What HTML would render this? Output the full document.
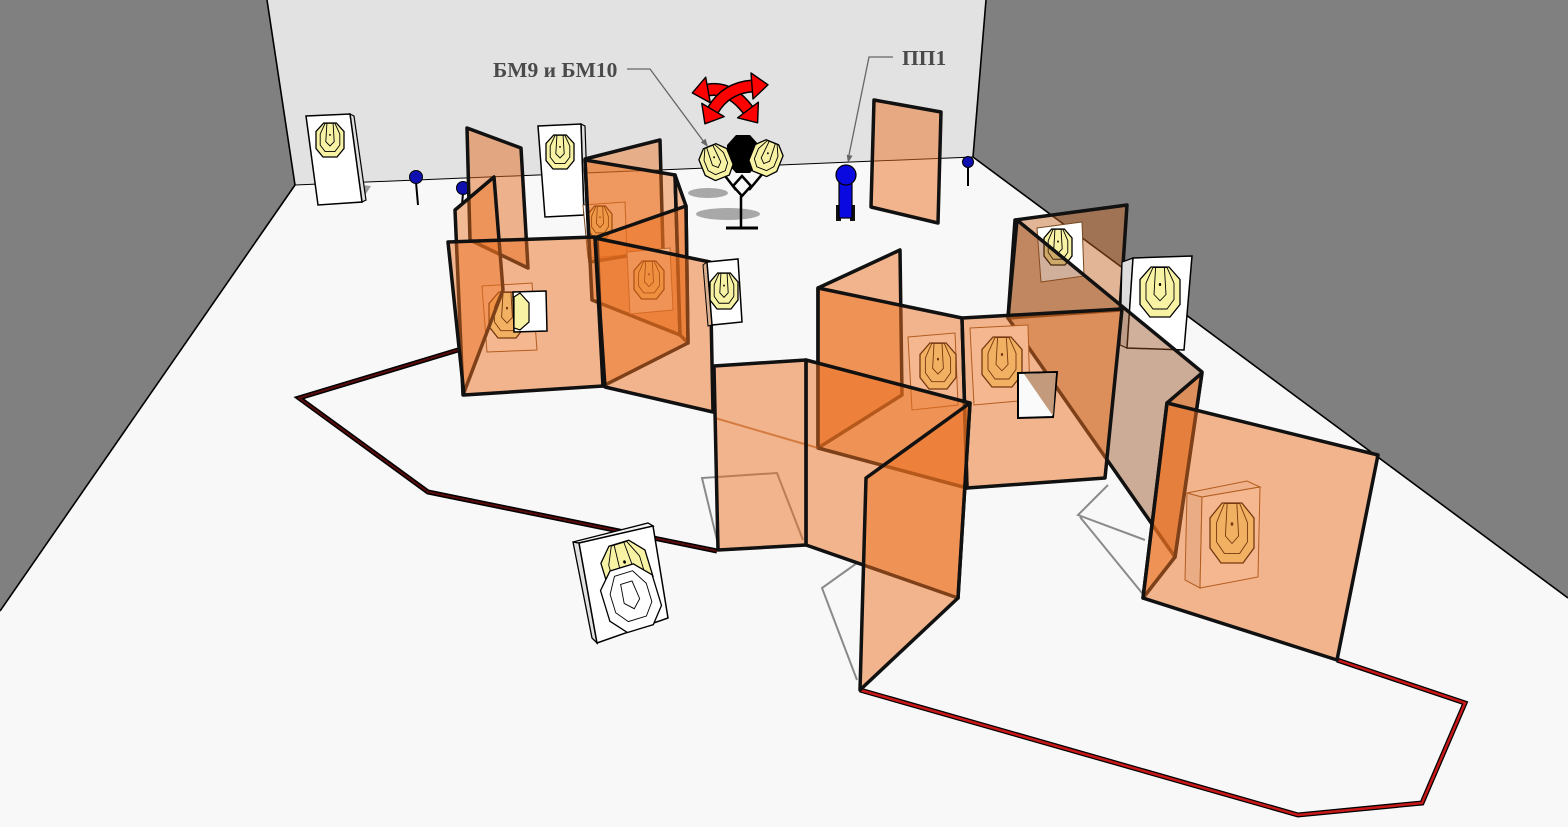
<!DOCTYPE html>
<html><head><meta charset="utf-8">
<style>html,body{margin:0;padding:0;background:#f8f8f8;overflow:hidden}svg{display:block}</style>
</head><body>
<svg width="1568" height="827" viewBox="0 0 1568 827" xmlns="http://www.w3.org/2000/svg">
<defs>
<g id="tg">
 <polygon points="-0.45,-1 0.45,-1 1,-0.5 1,0.5 0.5,1 -0.5,1 -1,0.5 -1,-0.5" fill="#f8f3a4" stroke="#000" stroke-width="1.3" vector-effect="non-scaling-stroke"/>
 <polygon points="-0.35,-0.98 0.35,-0.98 0.7,-0.35 0.7,0.3 0.35,0.68 -0.35,0.68 -0.7,0.3 -0.7,-0.35" fill="none" stroke="#000" stroke-width="0.9" vector-effect="non-scaling-stroke"/>
 <path d="M-0.22,-0.98 L-0.3,0.1 L0,0.35 L0.3,0.1 L0.22,-0.98" fill="none" stroke="#000" stroke-width="0.9" vector-effect="non-scaling-stroke"/>
 <circle cx="0" cy="-0.3" r="0.06" fill="#000"/>
</g>
<g id="tw">
 <polygon points="-0.45,-1 0.45,-1 1,-0.5 1,0.5 0.5,1 -0.5,1 -1,0.5 -1,-0.5" fill="#fff" stroke="#000" stroke-width="1.3" vector-effect="non-scaling-stroke"/>
 <polygon points="-0.35,-0.8 0.35,-0.8 0.7,-0.3 0.7,0.3 0.35,0.68 -0.35,0.68 -0.7,0.3 -0.7,-0.3" fill="none" stroke="#000" stroke-width="0.9" vector-effect="non-scaling-stroke"/>
 <path d="M-0.22,-0.5 L-0.3,0.1 L0,0.35 L0.3,0.1 L0.22,-0.5 Z" fill="none" stroke="#000" stroke-width="0.9" vector-effect="non-scaling-stroke"/>
</g>
</defs>

<!-- room -->
<rect width="1568" height="827" fill="#f8f8f8"/>
<polygon points="267,0 986,0 973,157 295,185" fill="#e2e2e2"/>
<polygon points="0,0 267,0 295,185 0,611" fill="#808080"/>
<polygon points="986,0 1568,0 1568,598 973,157" fill="#808080"/>
<g stroke="#000" stroke-width="1.6" fill="none">
<line x1="267" y1="0" x2="295" y2="185"/>
<line x1="295" y1="185" x2="0" y2="611"/>
<line x1="986" y1="0" x2="973" y2="157"/>
<line x1="973" y1="157" x2="1568" y2="598"/>
<line x1="295" y1="185" x2="973" y2="157" stroke-width="1"/>
</g>

<!-- fault line -->
<polyline points="458,350 299,398 428,492 717,551" fill="none" stroke="#000" stroke-width="5"/>
<polyline points="458,350 299,398 428,492 717,551" fill="none" stroke="#5a0c0c" stroke-width="2"/>
<polyline points="860,690 1298,815 1422,803 1465,703 1337,660" fill="none" stroke="#000" stroke-width="5"/>
<polyline points="860,690 1298,815 1422,803 1465,703 1337,660" fill="none" stroke="#c81818" stroke-width="2.5"/>

<!-- floor shadow outlines -->
<g stroke="#8a8a8a" stroke-width="2" fill="none">
<polyline points="717,540 702,478 777,473 803,540"/>
<polyline points="857,563 822,588 857,680"/>
<polyline points="1108,485 1078,515 1145,540"/>
<line x1="1080" y1="517" x2="1142" y2="593"/>
</g>

<!-- back left card -->
<polygon points="362,185 371,186 362,200" fill="#999"/>
<polygon points="350,114 354,116 366,200 362,202" fill="#ddd" stroke="#000" stroke-width="1.2"/>
<polygon points="306,116 350,114 362,202 318,205" fill="#fff" stroke="#000" stroke-width="1.5"/>
<use href="#tg" transform="translate(330,140) scale(14,17)"/>

<!-- pins -->
<g stroke="#000">
<line x1="416" y1="182" x2="418" y2="205" stroke-width="2"/>
<circle cx="416" cy="177" r="6.5" fill="#1010b0" stroke-width="1"/>
<line x1="463" y1="193" x2="462" y2="205" stroke-width="2"/>
<circle cx="463" cy="188" r="6.5" fill="#1010b0" stroke-width="1"/>
<line x1="968" y1="166" x2="968" y2="186" stroke-width="2"/>
<circle cx="968" cy="162" r="5.5" fill="#1010b0" stroke-width="1"/>
</g>

<!-- center back card -->
<polygon points="581,124 585,126 588,214 584,215" fill="#ddd" stroke="#000" stroke-width="1.2"/>
<polygon points="538,126 581,124 584,215 545,217" fill="#fff" stroke="#000" stroke-width="1.5"/>
<use href="#tg" transform="translate(560,152) scale(14,17)"/>

<!-- swinger -->
<ellipse cx="708" cy="193" rx="20" ry="5" fill="#a8a8a8"/>
<ellipse cx="728" cy="214" rx="32" ry="6" fill="#a8a8a8"/>
<g stroke="#000" stroke-width="2.5" fill="none">
<line x1="722" y1="172" x2="736" y2="190"/>
<line x1="764" y1="172" x2="749" y2="190"/>
<polygon points="742,176 751,186 742,196 733,186"/>
<line x1="741" y1="196" x2="741" y2="228"/>
<line x1="726" y1="228" x2="758" y2="228" stroke-width="3"/>
</g>
<polygon points="736,135 750,135 759,145 759,163 750,173 736,173 727,163 727,145" fill="#000"/>
<use href="#tg" transform="translate(716,162) rotate(-22) scale(15,17)"/>
<use href="#tg" transform="translate(766,158) rotate(22) scale(15,17)"/>

<!-- red arrows -->
<path d="M708,90 Q730,86 748,110" stroke="#000" stroke-width="13" fill="none"/>
<path d="M708,90 Q730,86 748,110" stroke="#f00" stroke-width="10" fill="none"/>
<polygon points="692.3,92.9 705.7,77.2 710.3,102.8" fill="#f00" stroke="#000" stroke-width="1.4" stroke-linejoin="round"/>
<polygon points="757.6,122.8 758.4,102.2 737.6,117.8" fill="#f00" stroke="#000" stroke-width="1.4" stroke-linejoin="round"/>
<path d="M752,86 Q726,88 713,110" stroke="#000" stroke-width="13" fill="none"/>
<path d="M752,86 Q726,88 713,110" stroke="#f00" stroke-width="10" fill="none"/>
<polygon points="768,84.8 753,99 751,73" fill="#f00" stroke="#000" stroke-width="1.4" stroke-linejoin="round"/>
<polygon points="704.9,123.8 724.2,116.6 701.8,103.4" fill="#f00" stroke="#000" stroke-width="1.4" stroke-linejoin="round"/>

<!-- ПП1 popper -->
<rect x="836" y="205" width="5" height="16" fill="#111"/>
<rect x="850" y="205" width="5" height="16" fill="#111"/>
<rect x="839" y="173" width="13" height="45" fill="#0a0ae0" stroke="#000" stroke-width="1.2"/>
<circle cx="846" cy="175" r="10" fill="#0a0ae0" stroke="#000" stroke-width="1.2"/>

<!-- panel near ПП1 -->
<polygon points="874,100 941,112 938,223 871,207" fill="rgba(236,112,32,0.5)" stroke="#111" stroke-width="3.5" stroke-linejoin="round"/>

<!-- labels -->
<polyline points="627,69 650,69 704,142" stroke="#666" fill="none" stroke-width="1.3"/>
<polygon points="708,147 705.6,138.8 700.8,142.4" fill="#666"/>
<polyline points="893,57 869,57 849,155" stroke="#666" fill="none" stroke-width="1.3"/>
<polygon points="848,163 852.5,155.8 846.7,154.6" fill="#666"/>
<text x="493" y="77" font-family="Liberation Serif, serif" font-weight="bold" font-size="21.5" fill="#4a4a4a">БМ9 и БМ10</text>
<text x="902" y="65" font-family="Liberation Serif, serif" font-weight="bold" font-size="21.5" fill="#4a4a4a">ПП1</text>

<!-- LEFT CLUSTER -->
<polygon points="583,205 625,202 627,255 588,258" fill="#fff" stroke="#7a4a20" stroke-width="1"/>
<use href="#tg" transform="translate(600,222) scale(12,16)"/>
<g stroke="#111" stroke-width="3.5" stroke-linejoin="round">
<polygon points="467,128 521,148 528,268 470,240" fill="rgba(225,105,30,0.5)"/>
<polygon points="585,159 660,140 663,250 590,262" fill="rgba(236,112,32,0.45)"/>
<polygon points="585,160 675,175 680,335 592,300" fill="rgba(236,112,32,0.45)"/>
<polygon points="675,175 686,206 688,343 680,335" fill="rgba(236,112,32,0.45)"/>
</g>
<polygon points="627,252 670,248 673,310 630,314" fill="#fff" stroke="#8a5a30" stroke-width="1"/>
<use href="#tg" transform="translate(649,280) scale(15,19)"/>
<polygon points="482,286 532,283 537,350 487,352" fill="#fff" stroke="#7a4a20" stroke-width="1"/>
<use href="#tg" transform="translate(507,315) scale(18,23)"/>
<g stroke="#111" stroke-width="3.5" stroke-linejoin="round">
<polygon points="455,210 494,177 503,290 463,395" fill="rgba(236,112,32,0.45)"/>
<polygon points="597,237 686,206 688,343 603,386" fill="rgba(236,112,32,0.5)"/>
<polygon points="448,242 595,237 603,386 464,395" fill="rgba(236,112,32,0.5)"/>
<polygon points="595,238 710,262 713,412 605,387" fill="rgba(236,112,32,0.5)"/>
</g>
<polygon points="513,292 546,291 547,331 514,332" fill="#fff" stroke="#000" stroke-width="1.5"/>
<polygon points="514,297 520,293 529,303 529,322 520,330 514,328" fill="#f8f3a4" stroke="#000" stroke-width="1.2"/>
<!-- near center white card -->
<polygon points="703,265 707,262 712,325 708,326" fill="#d8b090" stroke="#000" stroke-width="1"/>
<polygon points="707,262 738,259 742,322 712,325" fill="#fff" stroke="#000" stroke-width="1.5"/>
<use href="#tg" transform="translate(724,291) scale(14,18)"/>

<!-- RIGHT/MIDDLE CLUSTER -->
<polygon points="1015,220 1127,205 1120,310 1008,318" fill="rgba(200,100,30,0.45)" stroke="#111" stroke-width="3.5" stroke-linejoin="round"/>
<polygon points="1037,228 1082,222 1084,276 1041,282" fill="#fff" stroke="#7a4a20" stroke-width="1"/>
<use href="#tg" transform="translate(1058,247) scale(14,18)"/>
<!-- right white card -->
<polygon points="1122,262 1133,258 1127,348 1120,345" fill="#ddd" stroke="#000" stroke-width="1.2"/>
<polygon points="1133,258 1192,256 1184,350 1127,348" fill="#fff" stroke="#000" stroke-width="1.5"/>
<use href="#tg" transform="translate(1160,292) scale(20,25)"/>
<polygon points="1017,220 1202,372 1175,557 1008,318" fill="rgba(150,80,30,0.45)" stroke="#111" stroke-width="3.5" stroke-linejoin="round"/>
<polygon points="818,288 900,250 902,395 818,448" fill="rgba(236,112,32,0.5)" stroke="#111" stroke-width="3.5" stroke-linejoin="round"/>
<polygon points="908,337 955,333 958,405 912,410" fill="#fff" stroke="#7a4a20" stroke-width="1"/>
<use href="#tg" transform="translate(938,366) scale(18,23)"/>
<polygon points="970,328 1028,325 1030,400 974,405" fill="#fff" stroke="#7a4a20" stroke-width="1"/>
<use href="#tg" transform="translate(1002,362) scale(20,25)"/>
<g stroke="#111" stroke-width="3.5" stroke-linejoin="round">
<polygon points="818,288 962,318 967,488 818,448" fill="rgba(236,112,32,0.5)"/>
<polygon points="962,318 1122,309 1105,478 967,488" fill="rgba(236,112,32,0.5)"/>
</g>
<polygon points="1018,373 1057,372 1053,417 1018,418" fill="#fafafa" stroke="#000" stroke-width="2"/>
<polygon points="1024,374 1056,373 1053,416" fill="#c49a7c"/>

<!-- front C panels -->
<line x1="715" y1="418" x2="818" y2="448" stroke="rgba(150,60,0,0.6)" stroke-width="2"/>
<g stroke="#111" stroke-width="3.5" stroke-linejoin="round">
<polygon points="806,360 970,403 958,598 806,545" fill="rgba(236,112,32,0.5)"/>
<polygon points="714,366 806,360 806,545 718,550" fill="rgba(236,112,32,0.5)"/>
<polygon points="866,478 970,403 958,598 860,690" fill="rgba(236,112,32,0.5)"/>
</g>

<!-- right D group -->
<polygon points="1167,403 1202,373 1175,557 1143,598" fill="rgba(236,112,32,0.5)" stroke="#111" stroke-width="3.5" stroke-linejoin="round"/>
<polygon points="1187,493 1202,497 1200,588 1185,580" fill="#e8e8e8" stroke="#7a4a20" stroke-width="1"/>
<polygon points="1187,493 1247,481 1260,487 1202,497" fill="#f4f4f4" stroke="#7a4a20" stroke-width="1"/>
<polygon points="1202,497 1260,487 1258,577 1200,588" fill="#fff" stroke="#7a4a20" stroke-width="1"/>
<use href="#tg" transform="translate(1232,533) scale(22,30)"/>
<polygon points="1167,403 1378,455 1337,660 1143,598" fill="rgba(236,112,32,0.5)" stroke="#111" stroke-width="3.5" stroke-linejoin="round"/>

<!-- bottom-left card -->
<polygon points="573,542 579,543 597,643 592,638" fill="#e0e0e0" stroke="#000" stroke-width="1.3"/>
<polygon points="573,542 648,523 653,526 579,543" fill="#f4f4f4" stroke="#000" stroke-width="1.3"/>
<polygon points="579,543 653,526 668,618 597,643" fill="#fff" stroke="#000" stroke-width="1.5"/>
<use href="#tg" transform="translate(627,570) rotate(-17) scale(23,28)"/>
<use href="#tw" transform="translate(631,598) rotate(-17) scale(27,32)"/>
</svg>
</body></html>
